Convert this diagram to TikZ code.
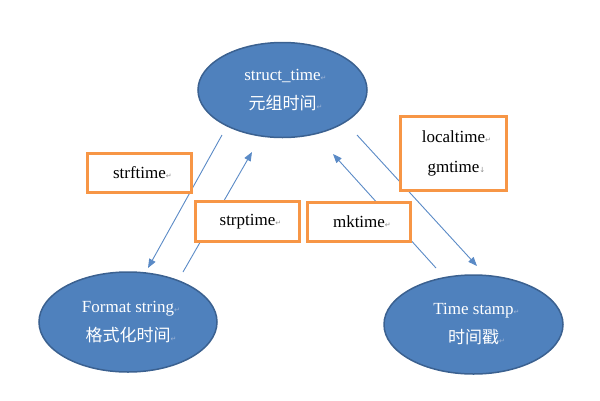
\documentclass[tikz,border=0pt]{standalone}
\usepackage{fontspec}
\setmainfont{Liberation Serif}
\newfontfamily\cjk{Noto Sans CJK SC}
\newfontfamily\symf{DejaVu Sans}
\usetikzlibrary{shapes.geometric,arrows.meta}
\definecolor{ellfill}{HTML}{4F81BD}
\definecolor{elldraw}{HTML}{3B6190}
\definecolor{boxdraw}{HTML}{F79646}
\definecolor{arr}{HTML}{5A8AC6}
\definecolor{markgray}{HTML}{8C8C8C}
\definecolor{markblue}{HTML}{9DB4D6}
\newcommand{\pmark}[1]{\rlap{\symf\fontsize{7}{7}\selectfont\textcolor{#1}{↵}}}
\newcommand{\dmark}[1]{\rlap{\symf\fontsize{7}{7}\selectfont\textcolor{#1}{↓}}}
\tikzset{
  ell/.style={ellipse, draw=elldraw, line width=1.5pt, fill=ellfill, inner sep=0pt,
    text=white, align=center, font=\fontsize{17}{29}\selectfont},
  fnbox/.style={rectangle, draw=boxdraw, line width=3pt, fill=white, inner sep=0pt,
    align=center, font=\fontsize{17}{30}\selectfont},
  conn/.style={draw=arr, line width=0.9pt, -{Triangle[length=9pt,width=7pt]}}
}
\begin{document}
\begin{tikzpicture}[x=1pt,y=-1pt]
\useasboundingbox (0,0) rectangle (600,400);
% ellipses
\node[ell, minimum width=169pt, minimum height=95pt] (st) at (282.5,90)
  {struct\_time\pmark{markblue}\\{\cjk 元组时间}\pmark{markblue}};
\node[ell, minimum width=178pt, minimum height=100pt] (fs) at (128,322)
  {Format string\pmark{markblue}\\{\cjk 格式化时间}\pmark{markblue}};
\node[ell, minimum width=179pt, minimum height=99pt] (ts) at (473.5,324.5)
  {Time stamp\pmark{markblue}\\{\cjk 时间戳}\pmark{markblue}};
% arrow end points
\coordinate (a1s) at (222,135); \coordinate (a1e) at (148,268);
\coordinate (a2s) at (183,272); \coordinate (a2e) at (252,152);
\coordinate (a3s) at (436,268); \coordinate (a3e) at (333,154);
\coordinate (a4s) at (357,135); \coordinate (a4e) at (477,266);
\draw[conn] (a1s) -- (a1e);
\draw[conn] (a2s) -- (a2e);
\draw[conn] (a3s) -- (a3e);
\draw[conn] (a4s) -- (a4e);
% boxes
\node[fnbox, minimum width=104pt, minimum height=39pt] (strf) at (139.5,173) {strftime\pmark{markgray}};
\node[fnbox, minimum width=104pt, minimum height=40pt] (strp) at (247.5,221.5) {strptime\pmark{markgray}};
\node[fnbox, minimum width=103pt, minimum height=39pt] (mk) at (359,222) {mktime\pmark{markgray}};
\node[fnbox, minimum width=106pt, minimum height=74pt] (lt) at (453.5,153.5) {localtime\pmark{markgray}\\gmtime\dmark{markgray}};
\end{tikzpicture}
\end{document}
